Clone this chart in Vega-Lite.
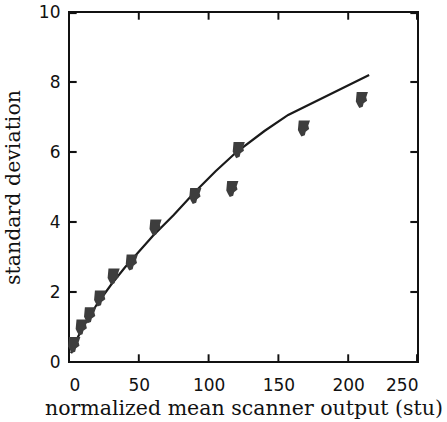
{
  "$schema": "https://vega.github.io/schema/vega-lite/v6.json",
  "width": 349,
  "height": 350,
  "autosize": "none",
  "padding": {"left": 69, "top": 12, "right": 29, "bottom": 60},
  "background": "white",
  "config": {
    "view": {"stroke": "#111", "strokeWidth": 2},
    "axis": {
      "grid": false,
      "domain": false,
      "ticks": false,
      "labelFont": "DejaVu Sans",
      "labelFontSize": 17,
      "labelColor": "#111",
      "titleFont": "DejaVu Serif",
      "titleFontSize": 20.5,
      "titleFontWeight": "normal",
      "titleColor": "#111"
    }
  },
  "datasets": {
    "curve": [
      {"x": 1.5, "y": 0.25},
      {"x": 5, "y": 0.6},
      {"x": 10, "y": 1.0},
      {"x": 20, "y": 1.65},
      {"x": 30, "y": 2.2},
      {"x": 40, "y": 2.7},
      {"x": 50, "y": 3.15},
      {"x": 60, "y": 3.6},
      {"x": 75, "y": 4.2},
      {"x": 90, "y": 4.85},
      {"x": 105, "y": 5.45},
      {"x": 120, "y": 6.0},
      {"x": 140, "y": 6.6},
      {"x": 157, "y": 7.06},
      {"x": 215, "y": 8.2}
    ],
    "pts": [
      {"x": 3.8, "y": 0.49},
      {"x": 9.1, "y": 0.99},
      {"x": 15.1, "y": 1.34},
      {"x": 22.3, "y": 1.82},
      {"x": 32, "y": 2.45},
      {"x": 45, "y": 2.85},
      {"x": 62, "y": 3.85},
      {"x": 90.5, "y": 4.75},
      {"x": 117, "y": 4.95},
      {"x": 121.6, "y": 6.06},
      {"x": 168.3, "y": 6.68},
      {"x": 209.8, "y": 7.49}
    ],
    "xticks": [
      {"a": 49.3, "b": 50.7, "lo": 0, "hi": 0.22, "top": 10, "tlo": 9.78},
      {"a": 99.3, "b": 100.7, "lo": 0, "hi": 0.22, "top": 10, "tlo": 9.78},
      {"a": 149.3, "b": 150.7, "lo": 0, "hi": 0.22, "top": 10, "tlo": 9.78},
      {"a": 199.3, "b": 200.7, "lo": 0, "hi": 0.22, "top": 10, "tlo": 9.78},
      {"a": 248.6, "b": 250, "lo": 0, "hi": 0.22, "top": 10, "tlo": 9.78}
    ],
    "yticks": [
      {"a": 1.97, "b": 2.03, "lo": 0, "hi": 5.5, "right": 250, "rlo": 244.5},
      {"a": 3.97, "b": 4.03, "lo": 0, "hi": 5.5, "right": 250, "rlo": 244.5},
      {"a": 5.97, "b": 6.03, "lo": 0, "hi": 5.5, "right": 250, "rlo": 244.5},
      {"a": 7.97, "b": 8.03, "lo": 0, "hi": 5.5, "right": 250, "rlo": 244.5},
      {"a": 9.94, "b": 10, "lo": 0, "hi": 5.5, "right": 250, "rlo": 244.5}
    ]
  },
  "layer": [
    {
      "data": {"name": "curve"},
      "mark": {"type": "line", "color": "#1a1a1a", "strokeWidth": 2.2},
      "encoding": {
        "x": {
          "field": "x", "type": "quantitative",
          "scale": {"domain": [0, 250], "nice": false, "zero": false},
          "axis": {"orient": "bottom", "values": [0, 50, 100, 150, 200, 250], "labelPadding": 15, "title": "normalized mean scanner output (stu)", "titlePadding": 5}
        },
        "y": {
          "field": "y", "type": "quantitative",
          "scale": {"domain": [0, 10], "nice": false, "zero": false},
          "axis": {"orient": "left", "values": [0, 2, 4, 6, 8, 10], "labelPadding": 9, "title": "standard deviation", "titlePadding": 15}
        }
      }
    },
    {
      "data": {"name": "xticks"},
      "mark": {"type": "rect", "color": "#111"},
      "encoding": {
        "x": {"field": "a", "type": "quantitative", "axis": null},
        "x2": {"field": "b"},
        "y": {"field": "lo", "type": "quantitative", "axis": null},
        "y2": {"field": "hi"}
      }
    },
    {
      "data": {"name": "xticks"},
      "mark": {"type": "rect", "color": "#111"},
      "encoding": {
        "x": {"field": "a", "type": "quantitative", "axis": null},
        "x2": {"field": "b"},
        "y": {"field": "top", "type": "quantitative", "axis": null},
        "y2": {"field": "tlo"}
      }
    },
    {
      "data": {"name": "yticks"},
      "mark": {"type": "rect", "color": "#111"},
      "encoding": {
        "y": {"field": "a", "type": "quantitative", "axis": null},
        "y2": {"field": "b"},
        "x": {"field": "lo", "type": "quantitative", "axis": null},
        "x2": {"field": "hi"}
      }
    },
    {
      "data": {"name": "yticks"},
      "mark": {"type": "rect", "color": "#111"},
      "encoding": {
        "y": {"field": "a", "type": "quantitative", "axis": null},
        "y2": {"field": "b"},
        "x": {"field": "right", "type": "quantitative", "axis": null},
        "x2": {"field": "rlo"}
      }
    },
    {
      "data": {"name": "pts"},
      "mark": {
        "type": "point",
        "shape": "M-0.6,-0.9 L0.7,-0.9 L0.5,-0.3 L0.6,0.1 L0.2,0.4 L0.1,0.8 L-0.3,0.95 L-0.5,0.6 L-0.7,0.2 Z",
        "filled": true,
        "color": "#3d3d3d",
        "opacity": 1,
        "size": 300
      },
      "encoding": {
        "x": {"field": "x", "type": "quantitative", "axis": null},
        "y": {"field": "y", "type": "quantitative", "axis": null}
      }
    }
  ],
  "resolve": {"axis": {"x": "independent", "y": "independent"}}
}
